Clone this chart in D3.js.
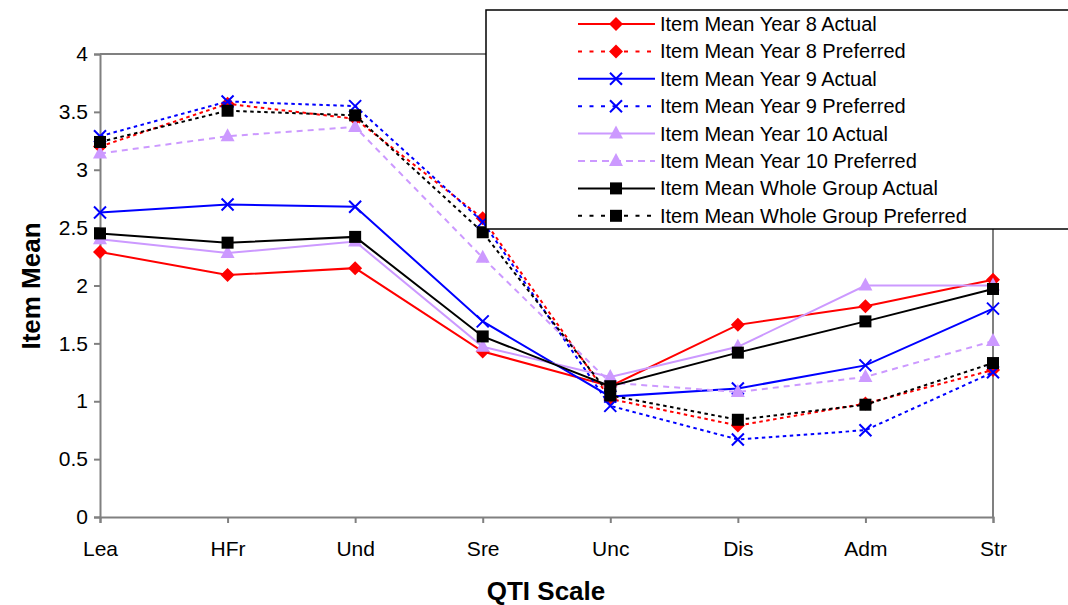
<!DOCTYPE html>
<html>
<head>
<meta charset="utf-8">
<script src="https://cdn.jsdelivr.net/npm/d3@7"></script>
<style>
  html, body { margin: 0; padding: 0; background: #fff; }
  svg { display: block; font-family: "Liberation Sans", Arial, sans-serif; }
</style>
</head>
<body>
<svg id="chart" width="1068" height="605"></svg>
<script>
// QTI scales on the x axis
const categories = ["Lea", "HFr", "Und", "Sre", "Unc", "Dis", "Adm", "Str"];

// Item means per scale
const year8Actual      = [2.29, 2.09, 2.15, 1.43, 1.13, 1.66, 1.82, 2.05];
const year8Preferred   = [3.20, 3.57, 3.44, 2.58, 1.02, 0.79, 0.98, 1.27];
const year9Actual      = [2.63, 2.70, 2.68, 1.69, 1.04, 1.11, 1.31, 1.80];
const year9Preferred   = [3.29, 3.59, 3.55, 2.55, 0.96, 0.67, 0.75, 1.25];
const year10Actual     = [2.40, 2.28, 2.38, 1.47, 1.21, 1.47, 2.00, 2.00];
const year10Preferred  = [3.14, 3.29, 3.37, 2.24, 1.16, 1.08, 1.21, 1.52];
const groupActual      = [2.45, 2.37, 2.42, 1.56, 1.13, 1.42, 1.69, 1.97];
const groupPreferred   = [3.24, 3.51, 3.47, 2.46, 1.05, 0.84, 0.97, 1.33];

const yTicks = [0, 0.5, 1, 1.5, 2, 2.5, 3, 3.5, 4];

const series = [
  { name: "Item Mean Year 8 Actual",            values: year8Actual,     color: "#FF0000", dash: null,      marker: "diamond" },
  { name: "Item Mean Year 8 Preferred",         values: year8Preferred,  color: "#FF0000", dash: "dot",     marker: "diamond" },
  { name: "Item Mean Year 9 Actual",            values: year9Actual,     color: "#0000FF", dash: null,      marker: "cross" },
  { name: "Item Mean Year 9 Preferred",         values: year9Preferred,  color: "#0000FF", dash: "dot",     marker: "cross" },
  { name: "Item Mean Year 10 Actual",           values: year10Actual,    color: "#CC99FF", dash: null,      marker: "triangle" },
  { name: "Item Mean Year 10 Preferred",        values: year10Preferred, color: "#CC99FF", dash: "dash",    marker: "triangle" },
  { name: "Item Mean Whole Group Actual",       values: groupActual,     color: "#000000", dash: null,      marker: "square" },
  { name: "Item Mean Whole Group Preferred",    values: groupPreferred,  color: "#000000", dash: "dot",     marker: "square" }
];

const plotDash = { dot: "3.5,3.5", dash: "6,5" };
const legendDash = { dot: "4,7.5", dash: "7,5" };

const svg = d3.select("#chart");
const plotLeft = 100, plotRight = 993, plotTop = 54, plotBottom = 517;

const x = d3.scalePoint().domain(categories).range([plotLeft, plotRight]);
const y = d3.scaleLinear().domain([0, 4]).range([plotBottom, plotTop]);

const axisGrey = "#808080";

// plot area frame (top and right edges)
svg.append("path")
  .attr("d", `M${plotLeft},${plotTop}H${plotRight}V${plotBottom}`)
  .attr("fill", "none").attr("stroke", axisGrey).attr("stroke-width", 2);

// y axis
const yAxis = svg.append("g")
  .attr("transform", `translate(${plotLeft},0)`)
  .call(d3.axisLeft(y).tickValues(yTicks).tickFormat(d3.format("")).tickSize(6).tickPadding(6));
yAxis.select(".domain").attr("stroke", axisGrey).attr("stroke-width", 2);
yAxis.selectAll(".tick line").attr("stroke", axisGrey).attr("stroke-width", 2);
yAxis.selectAll(".tick text")
  .attr("font-size", 21).attr("fill", "#000")
  .attr("font-family", "Liberation Sans, Arial, sans-serif");

// x axis
const xAxis = svg.append("g")
  .attr("transform", `translate(0,${plotBottom})`)
  .call(d3.axisBottom(x).tickSize(6).tickPadding(18));
xAxis.select(".domain").attr("stroke", axisGrey).attr("stroke-width", 2);
xAxis.selectAll(".tick line").attr("stroke", axisGrey).attr("stroke-width", 2);
xAxis.selectAll(".tick text")
  .attr("font-size", 21).attr("fill", "#000")
  .attr("font-family", "Liberation Sans, Arial, sans-serif");

// axis titles
svg.append("text")
  .attr("x", 546).attr("y", 600)
  .attr("text-anchor", "middle")
  .attr("font-size", 26).attr("font-weight", "bold")
  .text("QTI Scale");

svg.append("text")
  .attr("transform", "translate(40,286) rotate(-90)")
  .attr("text-anchor", "middle")
  .attr("font-size", 26).attr("font-weight", "bold")
  .text("Item Mean");

// marker drawing
function drawMarker(g, type, cx, cy, color) {
  if (type === "diamond") {
    const r = 7;
    g.append("path")
      .attr("d", `M${cx},${cy - r}L${cx + r},${cy}L${cx},${cy + r}L${cx - r},${cy}Z`)
      .attr("fill", color);
  } else if (type === "square") {
    g.append("rect")
      .attr("x", cx - 6).attr("y", cy - 6).attr("width", 12).attr("height", 12)
      .attr("fill", color);
  } else if (type === "triangle") {
    g.append("path")
      .attr("d", `M${cx},${cy - 8}L${cx + 7},${cy + 5}L${cx - 7},${cy + 5}Z`)
      .attr("fill", color);
  } else if (type === "cross") {
    const r = 6;
    g.append("path")
      .attr("d", `M${cx - r},${cy - r}L${cx + r},${cy + r}M${cx - r},${cy + r}L${cx + r},${cy - r}`)
      .attr("stroke", color).attr("stroke-width", 2).attr("fill", "none");
  }
}

const line = d3.line().x((d, i) => x(categories[i])).y(d => y(d));

const plot = svg.append("g");
series.forEach(s => {
  const g = plot.append("g");
  g.append("path")
    .datum(s.values)
    .attr("d", line)
    .attr("fill", "none")
    .attr("stroke", s.color)
    .attr("stroke-width", 2)
    .attr("stroke-dasharray", s.dash ? plotDash[s.dash] : null);
  s.values.forEach((v, i) => drawMarker(g, s.marker, x(categories[i]), y(v), s.color));
});

// legend
const legend = svg.append("g");
legend.append("rect")
  .attr("x", 486).attr("y", 10).attr("width", 600).attr("height", 219)
  .attr("fill", "#fff").attr("stroke", "#000").attr("stroke-width", 1.5);

series.forEach((s, i) => {
  const cy = 24 + i * 27.4;
  const g = legend.append("g");
  g.append("line")
    .attr("x1", 578).attr("x2", 655).attr("y1", cy).attr("y2", cy)
    .attr("stroke", s.color).attr("stroke-width", 2)
    .attr("stroke-dasharray", s.dash ? legendDash[s.dash] : null);
  drawMarker(g, s.marker, 616, cy, s.color);
  g.append("text")
    .attr("x", 660).attr("y", cy).attr("dy", "0.35em")
    .attr("font-size", 20).attr("fill", "#000")
    .text(s.name);
});
</script>
</body>
</html>
